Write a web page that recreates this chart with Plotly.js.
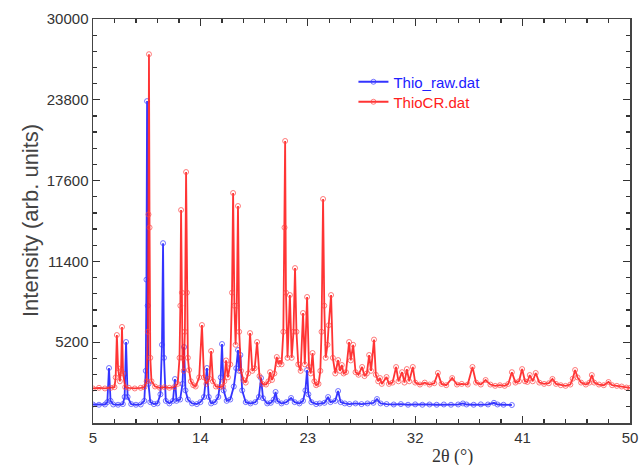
<!DOCTYPE html>
<html>
<head>
<meta charset="utf-8">
<script src="https://cdn.plot.ly/plotly-3.0.1.min.js"></script>
<style>html,body{margin:0;padding:0;background:#fff;}#chart{width:642px;height:465px;}</style>
</head>
<body>
<div id="chart"></div>
<script>
// Thio_raw.dat (blue)
const rawX = [5.0,5.5,6.0,6.2,6.34,6.47,6.7,7.1,7.5,7.65,7.77,7.9,8.2,8.6,9.0,9.3,9.42,9.48,9.53,9.58,9.65,9.8,10.1,10.4,10.65,10.78,10.87,10.95,11.1,11.4,11.7,11.87,12.0,12.3,12.5,12.63,12.75,12.95,13.3,13.7,14.0,14.3,14.55,14.7,14.9,15.2,15.5,15.7,15.81,15.95,16.2,16.5,16.8,17.0,17.15,17.25,17.35,17.5,17.8,18.2,18.6,18.9,19.08,19.25,19.6,19.9,20.15,20.3,20.45,20.8,21.2,21.6,21.9,22.3,22.6,22.8,22.94,23.05,23.3,23.7,24.0,24.4,24.7,24.9,25.3,25.54,25.75,26.1,26.5,27.0,27.5,28.0,28.5,28.8,29.1,29.6,30.2,30.8,31.4,32.0,32.6,33.2,33.8,34.4,35.0,35.6,36.0,36.3,36.9,37.5,38.1,38.6,38.9,39.4,40.1];
const rawY = [420,400,420,600,3220,700,420,400,450,1000,5215,1000,450,400,420,700,3000,10000,23700,8000,2000,600,450,500,1200,5000,12800,4000,700,500,700,2375,700,800,2000,4830,1500,800,500,450,600,1000,3220,1000,500,600,1000,2500,5060,1500,700,800,1800,3200,4600,3000,4218,1500,600,500,600,1000,2450,900,500,550,800,1380,700,500,600,920,600,500,700,1500,3067,1200,600,450,500,550,995,600,700,1455,600,500,450,500,450,500,550,840,500,450,420,450,400,430,400,420,400,420,400,420,500,420,400,430,420,550,420,400,380];

// ThioCR.dat (red)
const crX = [5.0,5.5,6.0,6.5,6.8,6.9,7.0,7.1,7.25,7.35,7.43,7.52,7.7,8.0,8.5,9.0,9.3,9.5,9.6,9.65,9.69,9.74,9.8,9.9,10.2,10.6,11.0,11.4,11.8,12.1,12.25,12.32,12.38,12.45,12.5,12.6,12.7,12.8,12.87,12.95,13.05,13.2,13.4,13.6,13.9,14.13,14.3,14.5,14.75,14.9,15.05,15.3,15.6,15.9,16.0,16.15,16.3,16.5,16.65,16.74,16.85,16.95,17.05,17.15,17.25,17.4,17.6,17.8,18.0,18.16,18.35,18.55,18.75,18.95,19.2,19.5,19.7,19.84,20.0,20.2,20.4,20.55,20.65,20.8,20.95,21.05,21.1,21.17,21.3,21.5,21.65,21.8,21.93,22.05,22.2,22.4,22.6,22.75,22.94,23.1,23.25,23.4,23.55,23.7,23.9,24.05,24.15,24.28,24.38,24.5,24.65,24.75,24.95,25.1,25.3,25.54,25.7,25.85,26.0,26.2,26.46,26.6,26.8,27.0,27.25,27.55,27.75,27.95,28.14,28.3,28.55,28.7,28.9,29.05,29.2,29.6,29.8,30.1,30.4,30.6,30.9,31.1,31.3,31.5,31.8,32.0,32.4,32.8,33.2,33.6,33.9,34.2,34.6,35.1,35.5,35.9,36.4,36.8,37.1,37.5,37.9,38.3,38.7,39.1,39.5,39.8,40.1,40.4,40.7,40.96,41.2,41.4,41.6,41.85,42.1,42.4,42.8,43.2,43.5,43.8,44.2,44.6,45.0,45.2,45.4,45.6,45.9,46.3,46.6,46.8,47.0,47.4,47.8,48.2,48.5,48.9,49.3,49.7,50.0];
const crY = [1650,1700,1650,1700,1750,2500,5750,3200,2200,3000,6370,2800,1750,1700,1650,1700,1750,2200,6000,15000,27300,14000,4000,2200,1800,1700,1750,1700,1750,2000,4000,8000,15344,9000,4000,3000,6000,18260,9000,4000,3067,2200,1900,1800,2500,6520,2500,2000,2400,4525,2200,1800,1750,1800,2200,3800,2500,3500,9000,16650,8000,5000,8000,15650,6000,3000,2300,2100,2800,5900,3000,3200,5215,2600,2000,1950,2200,2900,2300,2800,4064,3500,3800,3500,6000,14000,20640,9000,4000,8820,4000,6000,10890,6000,3500,3000,7440,3500,8670,3300,2800,4370,2200,1900,2000,3000,6000,16190,8000,4000,5000,6500,8820,4000,2800,3830,3000,3450,2800,2900,5215,3800,5000,2900,2700,3300,2600,2800,4218,3000,5400,2700,2200,2450,2000,2530,2000,2100,3297,2200,2900,2100,3140,2200,3300,2100,1950,2100,1950,2050,2840,2000,1900,2450,1950,2000,1950,3300,2100,1950,2300,1950,1850,1900,1850,2000,2900,2100,2200,3140,2200,2150,2680,2200,2840,2100,2000,2050,2380,2000,1900,1850,1950,2400,3070,2500,2100,1950,2100,2680,2100,1950,1900,2145,1900,1850,1800,1720,1690];

const xTicks = [5, 14, 23, 32, 41, 50];
const yTicks = [5200, 11400, 17600, 23800, 30000];
const names = ['Thio_raw.dat', 'ThioCR.dat'];

const FONT = 'Liberation Sans, Arial, sans-serif';

const traces = [
  {x: rawX, y: rawY, type: 'scatter', mode: 'lines+markers', legend: 'legend',
   name: '<span style="color:#2020ff">' + names[0] + '</span>',
   line: {color: 'rgba(30,30,255,0.9)', width: 1.8},
   marker: {symbol: 'circle-open', size: 5, color: 'rgba(60,60,255,0.7)', line: {width: 1}}},
  {x: crX, y: crY, type: 'scatter', mode: 'lines+markers', legend: 'legend2',
   name: '<span style="color:#ff2020">' + names[1] + '</span>',
   line: {color: 'rgba(255,30,30,0.9)', width: 1.8},
   marker: {symbol: 'circle-open', size: 5, color: 'rgba(255,70,70,0.7)', line: {width: 1}}}
];

const axisCommon = {
  showline: true, linecolor: '#444', linewidth: 1.5, mirror: 'allticks',
  ticks: 'inside', ticklen: 7, tickwidth: 1.3, tickcolor: '#333',
  showgrid: false, zeroline: false,
  tickfont: {family: FONT, size: 15, color: '#333'}
};

const legendCommon = {xanchor: 'left', yanchor: 'middle', bgcolor: 'rgba(0,0,0,0)',
  font: {family: FONT, size: 15}, borderwidth: 0};

const layout = {
  width: 642, height: 465,
  margin: {l: 93, r: 12, t: 19, b: 42},
  paper_bgcolor: '#fff', plot_bgcolor: '#fff',
  showlegend: true,
  legend: Object.assign({}, legendCommon, {x: 0.485, y: (423 - 82) / 404}),
  legend2: Object.assign({}, legendCommon, {x: 0.485, y: (423 - 102) / 404}),
  xaxis: Object.assign({}, axisCommon, {
    range: [5, 50], tickmode: 'array', tickvals: xTicks, ticktext: xTicks.map(String),
    minor: {tickmode: 'linear', tick0: 5, dtick: 1.8, ticks: 'inside', ticklen: 4, tickcolor: '#333', showgrid: false}
  }),
  yaxis: Object.assign({}, axisCommon, {
    range: [-1000, 30000], tickmode: 'array', tickvals: yTicks, ticktext: yTicks.map(String),
    minor: {tickmode: 'linear', tick0: -1000, dtick: 1240, ticks: 'inside', ticklen: 4, tickcolor: '#333', showgrid: false}
  }),
  annotations: [
    {text: '2θ (°)', xref: 'paper', yref: 'paper', x: 0.67, y: 0, yshift: -33,
     xanchor: 'center', yanchor: 'middle', showarrow: false,
     font: {family: 'Liberation Serif, Times New Roman, serif', size: 18, color: '#333'}},
    {text: 'Intensity (arb. units)', xref: 'paper', yref: 'paper', x: 0, xshift: -63, y: 0.5,
     xanchor: 'center', yanchor: 'middle', textangle: -90, showarrow: false,
     font: {family: FONT, size: 22, color: '#444'}}
  ]
};

Plotly.newPlot('chart', traces, layout, {displayModeBar: false, staticPlot: true});
</script>
</body>
</html>
